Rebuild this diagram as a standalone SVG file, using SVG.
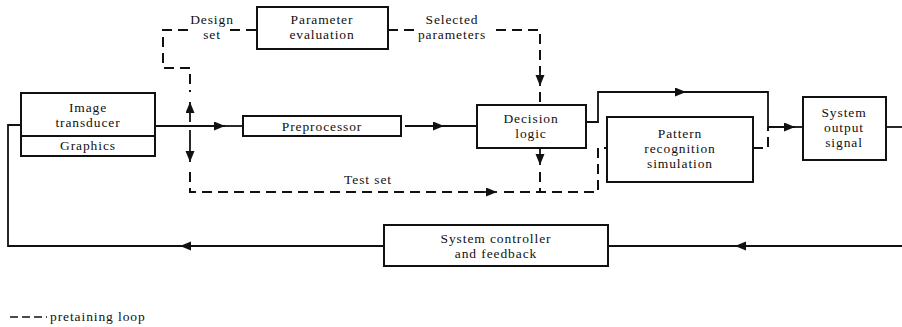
<svg xmlns="http://www.w3.org/2000/svg" width="902" height="327" viewBox="0 0 902 327">
<style>
  .box { fill: #fff; stroke: #111; stroke-width: 2; }
  .t { font-family: "Liberation Serif", "DejaVu Serif", serif; font-size: 13.5px; letter-spacing: 0.9px; fill: #111; text-anchor: middle; }
  .sol { fill: none; stroke: #111; stroke-width: 1.8; }
  .dash { fill: none; stroke: #111; stroke-width: 2; stroke-dasharray: 10 6; }
</style>
<defs>
  <marker id="arr" markerUnits="userSpaceOnUse" markerWidth="12" markerHeight="10" refX="11" refY="4.5" orient="auto">
    <path d="M0,0 L11,4.5 L0,9 z" fill="#111"/>
  </marker>
</defs>
<rect width="902" height="327" fill="#fff"/>

<g id="connectors">
  <path class="sol" d="M155,126 H225" marker-end="url(#arr)"/>
  <path class="sol" d="M224,126 H243"/>
  <path class="sol" d="M405,126 H444" marker-end="url(#arr)"/>
  <path class="sol" d="M443,126 H477"/>
  <path class="sol" d="M586,122 H598 V92 H686" marker-end="url(#arr)"/>
  <path class="sol" d="M685,92 H768 V127 H795" marker-end="url(#arr)"/>
  <path class="sol" d="M794,127 H803"/>
  <path class="sol" d="M886,127 H902"/>
  <path class="sol" d="M902,246 H735" marker-end="url(#arr)"/>
  <path class="sol" d="M736,246 H609"/>
  <path class="sol" d="M384,246 H180" marker-end="url(#arr)"/>
  <path class="sol" d="M181,246 H8 V125 H21"/>
  <path class="dash" d="M256,30 H226"/>
  <path class="dash" d="M188,30 H163 V68 H190 V92"/>
  <path class="sol" d="M190,122 V102" marker-end="url(#arr)"/>
  <path class="sol" d="M190,130 V162" marker-end="url(#arr)"/>
  <path class="dash" d="M190,172 V192 H486"/>
  <path class="sol" d="M484,192 H497" marker-end="url(#arr)"/>
  <path class="dash" d="M504,192 H598 V148 H606"/>
  <path class="dash" d="M388,30 H418"/>
  <path class="dash" d="M496,30 H540 V72"/>
  <path class="sol" d="M540,72 V86" marker-end="url(#arr)"/>
  <path class="dash" d="M540,92 V105"/>
  <path class="sol" d="M540,148 V165" marker-end="url(#arr)"/>
  <path class="dash" d="M540,172 V192"/>
  <path class="dash" d="M753,148 H768 V127"/>
</g>

<g id="image-transducer">
  <rect class="box" x="21" y="93" width="134" height="63"/>
  <line x1="21" y1="136" x2="155" y2="136" stroke="#111" stroke-width="2"/>
  <text class="t" x="88" y="112">Image</text>
  <text class="t" x="88" y="127">transducer</text>
  <text class="t" x="88" y="150">Graphics</text>
</g>

<g id="parameter-evaluation">
  <rect class="box" x="257" y="7" width="131" height="42"/>
  <text class="t" x="322" y="24">Parameter</text>
  <text class="t" x="322" y="39">evaluation</text>
</g>

<g id="preprocessor">
  <rect class="box" x="243" y="116" width="158" height="20"/>
  <text class="t" x="322" y="131">Preprocessor</text>
</g>

<g id="decision-logic">
  <rect class="box" x="477" y="105" width="109" height="43"/>
  <text class="t" x="531" y="123">Decision</text>
  <text class="t" x="531" y="138">logic</text>
</g>

<g id="pattern-recognition">
  <rect class="box" x="607" y="117" width="146" height="65"/>
  <text class="t" x="680" y="138">Pattern</text>
  <text class="t" x="680" y="153">recognition</text>
  <text class="t" x="680" y="168">simulation</text>
</g>

<g id="system-output">
  <rect class="box" x="803" y="97" width="83" height="63"/>
  <text class="t" x="844" y="117">System</text>
  <text class="t" x="844" y="132">output</text>
  <text class="t" x="844" y="147">signal</text>
</g>

<g id="system-controller">
  <rect class="box" x="384" y="225" width="224" height="41"/>
  <text class="t" x="496" y="243">System controller</text>
  <text class="t" x="496" y="258">and feedback</text>
</g>

<g id="labels">
  <text class="t" x="212" y="24">Design</text>
  <text class="t" x="212" y="39">set</text>
  <text class="t" x="452" y="24">Selected</text>
  <text class="t" x="452" y="39">parameters</text>
  <text class="t" x="368" y="184">Test set</text>
</g>

<g id="legend">
  <path d="M10,317 H47" fill="none" stroke="#111" stroke-width="1.6" stroke-dasharray="8 4"/>
  <text class="t" x="50" y="321" style="text-anchor:start">pretaining loop</text>
</g>
</svg>
